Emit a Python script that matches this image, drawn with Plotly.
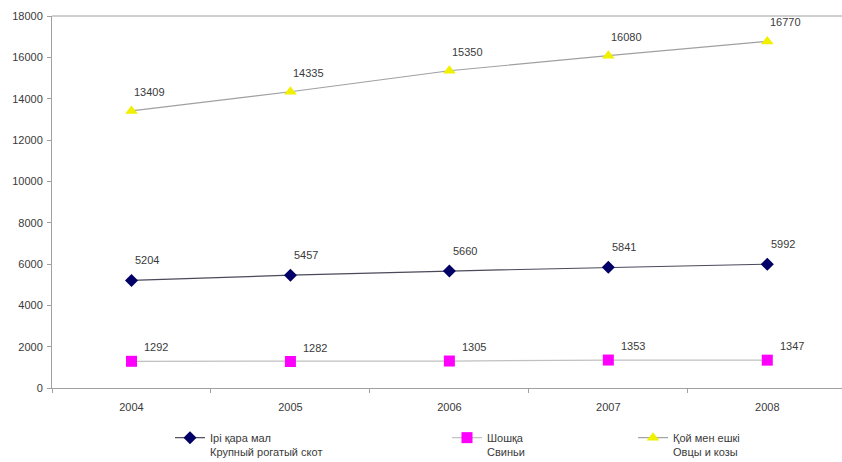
import plotly.graph_objects as go

years = ["2004", "2005", "2006", "2007", "2008"]
cattle = [5204, 5457, 5660, 5841, 5992]
pigs = [1292, 1282, 1305, 1353, 1347]
sheep = [13409, 14335, 15350, 16080, 16770]

names = [
    "Ірі қара мал<br>Крупный рогатый скот",
    "Шошқа<br>Свиньи",
    "Қой мен ешкі<br>Овцы и козы",
]

W, H = 842, 462
FONT = "Liberation Sans, Arial, sans-serif"
TXT = "#3a3a3a"

fig = go.Figure()

series = [
    (cattle, names[0], "#000066", "diamond", 10, "#4a4a5a", "legend", (16, 20)),
    (pigs, names[1], "#ff00ff", "square", 11, "#c0c0c0", "legend2", (25, 14)),
    (sheep, names[2], "#f0f000", "triangle-up", 11, "#a0a0a0", "legend3", (18, 19)),
]

for vals, nm, mc, sym, sz, lc, lg, (dx, dy) in series:
    fig.add_trace(go.Scatter(
        x=years, y=vals, name=nm, mode="lines+markers",
        line=dict(color=lc, width=1.2),
        marker=dict(color=mc, symbol=sym, size=sz, line=dict(width=0)),
        legend=lg, hoverinfo="x+y",
    ))
    for i, yv in enumerate(vals):
        fig.add_annotation(
            x=i, y=yv, xref="x", yref="y", text=str(yv), showarrow=False,
            xshift=dx, yshift=dy,
            font=dict(family=FONT, size=11, color=TXT),
        )

leg_common = dict(
    orientation="v", xref="container", yref="container",
    yanchor="top", xanchor="left", valign="top",
    font=dict(family=FONT, size=11, color=TXT),
    bgcolor="rgba(0,0,0,0)", borderwidth=0, tracegroupgap=0,
)
ly = 1 - 424 / H
fig.update_layout(
    legend=dict(x=170 / W, y=ly, **leg_common),
    legend2=dict(x=447 / W, y=ly, **leg_common),
    legend3=dict(x=633 / W, y=ly, **leg_common),
)

fig.update_layout(
    width=W, height=H,
    margin=dict(l=52, r=0, t=16, b=74, autoexpand=False),
    paper_bgcolor="white", plot_bgcolor="white",
    showlegend=True,
    font=dict(family=FONT, size=11, color=TXT),
    xaxis=dict(
        type="category", range=[-0.5, 4.47],
        showline=True, linecolor="#a0a0a0", linewidth=1,
        ticks="outside", tickson="boundaries", ticklen=4, tickcolor="#a0a0a0",
        showgrid=False, zeroline=False, tickangle=0,
        tickfont=dict(family=FONT, size=11, color=TXT),
        ticklabelstandoff=9,
    ),
    yaxis=dict(
        range=[0, 18000], dtick=2000, tick0=0, tickformat="d",
        showline=True, linecolor="#a0a0a0", linewidth=1,
        ticks="outside", ticklen=4, tickcolor="#a0a0a0",
        showgrid=False, zeroline=False,
        tickfont=dict(family=FONT, size=11, color=TXT),
        ticklabelstandoff=2,
    ),
    shapes=[dict(type="line", xref="paper", yref="paper", x0=0, x1=1, y0=1, y1=1,
                 line=dict(color="#a0a0a0", width=1))],
)

fig.write_html(
    "out.html",
    config={"displayModeBar": False},
    post_script="document.body.style.margin='0';",
)
